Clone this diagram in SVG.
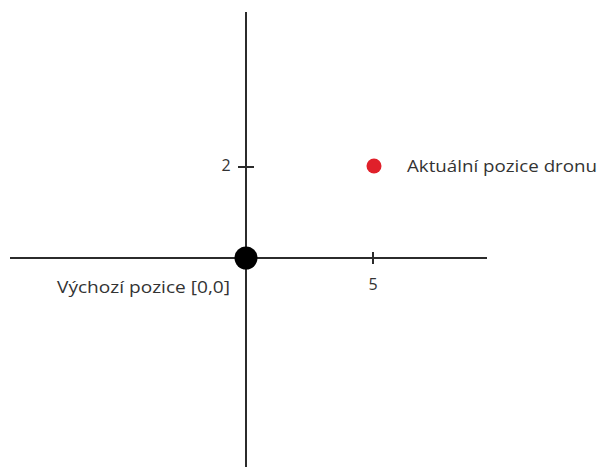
<svg xmlns="http://www.w3.org/2000/svg" width="601" height="475" viewBox="0 0 601 475">
<style>
.ax{stroke:#2b2b2b;stroke-width:2;fill:none}
.t{font-family:"Open Sans","Noto Sans",sans-serif;font-size:16px;fill:#333}
</style>
<rect width="601" height="475" fill="#fff"/>
<g id="connectors">
<line class="ax" x1="246" y1="12" x2="246" y2="467"/>
<line class="ax" x1="10" y1="258" x2="487" y2="258"/>
<line class="ax" x1="238" y1="167" x2="254" y2="167"/>
<line class="ax" x1="373" y1="252" x2="373" y2="264"/>
</g>
<g id="label-2"><text class="t" x="226" y="171" text-anchor="middle">2</text></g>
<g id="label-5"><text class="t" x="373" y="290" text-anchor="middle">5</text></g>
<g id="origin">
<circle cx="246" cy="258" r="11.5" fill="#000"/>
<text class="t" x="57" y="293" textLength="173" lengthAdjust="spacingAndGlyphs">Výchozí pozice [0,0]</text>
</g>
<g id="drone">
<circle cx="374" cy="166" r="7.5" fill="#e0202a"/>
<text class="t" x="407" y="172" textLength="190" lengthAdjust="spacingAndGlyphs">Aktuální pozice dronu</text>
</g>
</svg>
